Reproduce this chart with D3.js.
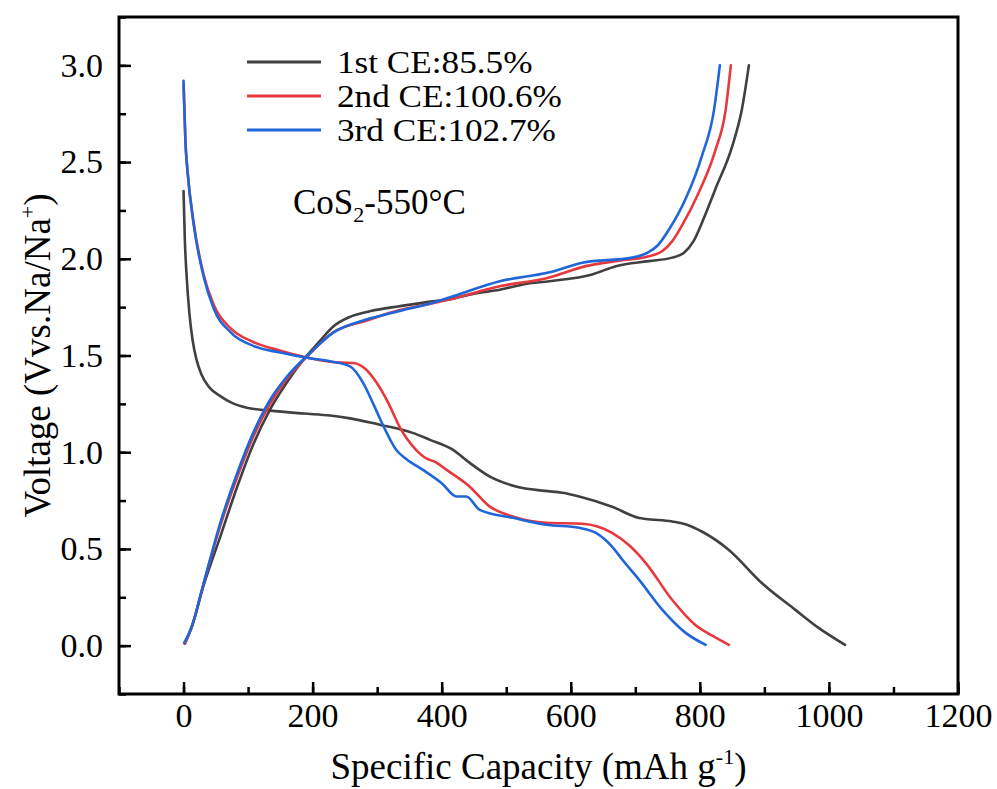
<!DOCTYPE html>
<html>
<head>
<meta charset="utf-8">
<script src="https://cdn.jsdelivr.net/npm/d3@7"></script>
<style>
  body { margin: 0; background: #fff; }
  svg { display: block; }
  text { font-family: "Liberation Serif", "Times New Roman", serif; fill: #000; }
</style>
</head>
<body>
<div id="chart"></div>
<script>
// Values: [capacity mAh/g, voltage V]
var discharge1 = [[0,2.35],[2,2.1],[5,1.9],[9,1.72],[14,1.58],[20,1.48],[28,1.4],[40,1.335],[57,1.29],[75,1.255],[98,1.23],[134,1.215],[186,1.2],[227,1.19],[258,1.175],[304,1.142],[340,1.115],[355,1.1],[381,1.065],[417,1.013],[443,0.946],[474,0.875],[515,0.823],[560,0.8],[587,0.79],[613,0.771],[664,0.718],[706,0.66],[716,0.655],[757,0.642],[780,0.625],[803,0.59],[845,0.495],[896,0.324],[948,0.185],[984,0.092],[1025,0.004]];
var charge1 = [[2,0.01],[13,0.1],[31,0.31],[57,0.564],[83,0.82],[108,1.04],[134,1.22],[160,1.36],[186,1.479],[210,1.57],[232,1.65],[258,1.7],[290,1.73],[335,1.755],[386,1.78],[412,1.79],[450,1.82],[490,1.84],[530,1.87],[567,1.884],[633,1.919],[670,1.962],[721,1.988],[757,2.006],[775,2.03],[790,2.09],[805,2.2],[824,2.36],[850,2.58],[865,2.77],[876,3.0]];
var discharge2 = [[0,2.9],[3,2.6],[6,2.46],[16,2.18],[31,1.92],[47,1.76],[73,1.64],[108,1.57],[150,1.525],[191,1.49],[227,1.468],[265,1.46],[282,1.43],[299,1.36],[318,1.25],[335,1.13],[361,1.01],[375,0.97],[390,0.95],[407,0.91],[443,0.823],[474,0.72],[510,0.668],[562,0.635],[618,0.63],[664,0.583],[690,0.52],[716,0.428],[757,0.237],[793,0.107],[820,0.05],[845,0.004]];
var charge2 = [[2,0.01],[13,0.1],[31,0.32],[57,0.62],[83,0.87],[108,1.08],[134,1.25],[160,1.38],[196,1.51],[232,1.62],[283,1.68],[335,1.735],[386,1.77],[412,1.79],[490,1.858],[567,1.903],[623,1.962],[670,1.988],[721,2.013],[742,2.04],[757,2.09],[772,2.17],[798,2.34],[824,2.56],[840,2.77],[848,3.0]];
var discharge3 = [[0,2.92],[3,2.6],[6,2.46],[16,2.17],[31,1.91],[47,1.74],[73,1.62],[108,1.55],[150,1.515],[191,1.488],[227,1.47],[258,1.444],[278,1.36],[294,1.25],[309,1.14],[330,1.01],[345,0.965],[371,0.909],[400,0.84],[423,0.771],[438,0.771],[459,0.702],[510,0.661],[562,0.625],[613,0.609],[639,0.583],[664,0.512],[680,0.444],[706,0.34],[742,0.185],[778,0.066],[809,0.004]];
var charge3 = [[1,0.014],[13,0.1],[31,0.32],[57,0.635],[83,0.89],[108,1.1],[134,1.27],[160,1.39],[196,1.513],[232,1.618],[283,1.686],[335,1.73],[386,1.773],[412,1.8],[490,1.884],[567,1.93],[618,1.98],[695,2.006],[718,2.03],[735,2.07],[752,2.15],[778,2.31],[803,2.53],[822,2.77],[831,3.0]];

var legendLabels = ["1st CE:85.5%", "2nd CE:100.6%", "3rd CE:102.7%"];
var colours = ["#404040", "#e8383d", "#1f66d8"];
var xTicks = [0, 200, 400, 600, 800, 1000, 1200];
var yTicks = [0.0, 0.5, 1.0, 1.5, 2.0, 2.5, 3.0];

var cycles = [
	{ curves: [discharge1, charge1], colour: colours[0] },
	{ curves: [discharge2, charge2], colour: colours[1] },
	{ curves: [discharge3, charge3], colour: colours[2] }
];

var width = 997, height = 789;
var margin = { top: 17, right: 39, bottom: 95, left: 119 };
var w = width - margin.left - margin.right;
var h = height - margin.top - margin.bottom;

var svg = d3.select("#chart")
	.append("svg")
	.attr("width", width)
	.attr("height", height);

var g = svg.append("g")
	.attr("transform", "translate(" + margin.left + "," + margin.top + ")");

var x = d3.scaleLinear().domain([-100, 1200]).range([0, w]);
var y = d3.scaleLinear().domain([-0.25, 3.25]).range([h, 0]);

// minor ticks first
g.append("g")
	.attr("transform", "translate(0," + h + ")")
	.call(d3.axisBottom(x).tickValues(d3.range(-100, 1201, 100)).tickSizeInner(-7).tickSizeOuter(0).tickFormat(""))
	.call(function(a) { a.select(".domain").remove(); })
	.selectAll("line").attr("stroke-width", 2.5);

g.append("g")
	.call(d3.axisLeft(y).tickValues(d3.range(-0.25, 3.26, 0.25)).tickSizeInner(-7).tickSizeOuter(0).tickFormat(""))
	.call(function(a) { a.select(".domain").remove(); })
	.selectAll("line").attr("stroke-width", 2.5);

// major ticks + labels
var xAxis = g.append("g")
	.attr("transform", "translate(0," + h + ")")
	.call(d3.axisBottom(x).tickValues(xTicks).tickSizeInner(-12).tickSizeOuter(0).tickPadding(9).tickFormat(d3.format("d")));
xAxis.select(".domain").remove();
xAxis.selectAll("line").attr("stroke-width", 2.5);
xAxis.selectAll("text")
	.style("font-family", "Liberation Serif")
	.style("font-size", "34px");

var yAxis = g.append("g")
	.call(d3.axisLeft(y).tickValues(yTicks).tickSizeInner(-12).tickSizeOuter(0).tickPadding(16).tickFormat(d3.format(".1f")));
yAxis.select(".domain").remove();
yAxis.selectAll("line").attr("stroke-width", 2.5);
yAxis.selectAll("text")
	.style("font-family", "Liberation Serif")
	.style("font-size", "34px");

// frame
g.append("rect")
	.attr("x", 0)
	.attr("y", 0)
	.attr("width", w)
	.attr("height", h)
	.attr("fill", "none")
	.attr("stroke", "#000")
	.attr("stroke-width", 3);

var line = d3.line()
	.x(function(d) { return x(d[0]); })
	.y(function(d) { return y(d[1]); })
	.curve(d3.curveMonotoneX);

// draw black first, then red, then blue on top
cycles.forEach(function(c) {
	c.curves.forEach(function(curve) {
		g.append("path")
			.datum(curve)
			.attr("d", line)
			.attr("fill", "none")
			.attr("stroke", c.colour)
			.attr("stroke-width", 2.6)
			.attr("stroke-linejoin", "round")
			.attr("stroke-linecap", "round");
	});
});

// legend (text is a bit wider than Liberation Serif, so stretch it)
var legend = svg.append("g");
legendLabels.forEach(function(lab, i) {
	var ly = 62 + i * 34;
	legend.append("line")
		.attr("x1", 247).attr("x2", 321)
		.attr("y1", ly).attr("y2", ly)
		.attr("stroke", colours[i])
		.attr("stroke-width", 3);
	legend.append("text")
		.attr("transform", "translate(337," + (ly + 11) + ") scale(1.1,1)")
		.attr("font-size", "32px")
		.text(lab);
});

// sample label
var sample = svg.append("text")
	.attr("x", 293)
	.attr("y", 214)
	.attr("font-size", "35px");
sample.append("tspan").text("CoS");
sample.append("tspan").attr("font-size", "22px").attr("dy", 8).text("2");
sample.append("tspan").attr("dy", -8).text("-550\u00B0C");

// axis titles
var xt = svg.append("text")
	.attr("x", margin.left + w / 2)
	.attr("y", 779)
	.attr("text-anchor", "middle")
	.attr("font-size", "37px");
xt.append("tspan").text("Specific Capacity (mAh g");
xt.append("tspan").attr("font-size", "22px").attr("dy", -15).text("-1");
xt.append("tspan").attr("dy", 15).text(")");

var yt = svg.append("text")
	.attr("transform", "translate(50," + (margin.top + h / 2) + ") rotate(-90)")
	.attr("text-anchor", "middle")
	.attr("font-size", "37px");
yt.append("tspan").text("Voltage (Vvs.Na/Na");
yt.append("tspan").attr("font-size", "22px").attr("dy", -15).text("+");
yt.append("tspan").attr("dy", 15).text(")");
</script>
</body>
</html>
